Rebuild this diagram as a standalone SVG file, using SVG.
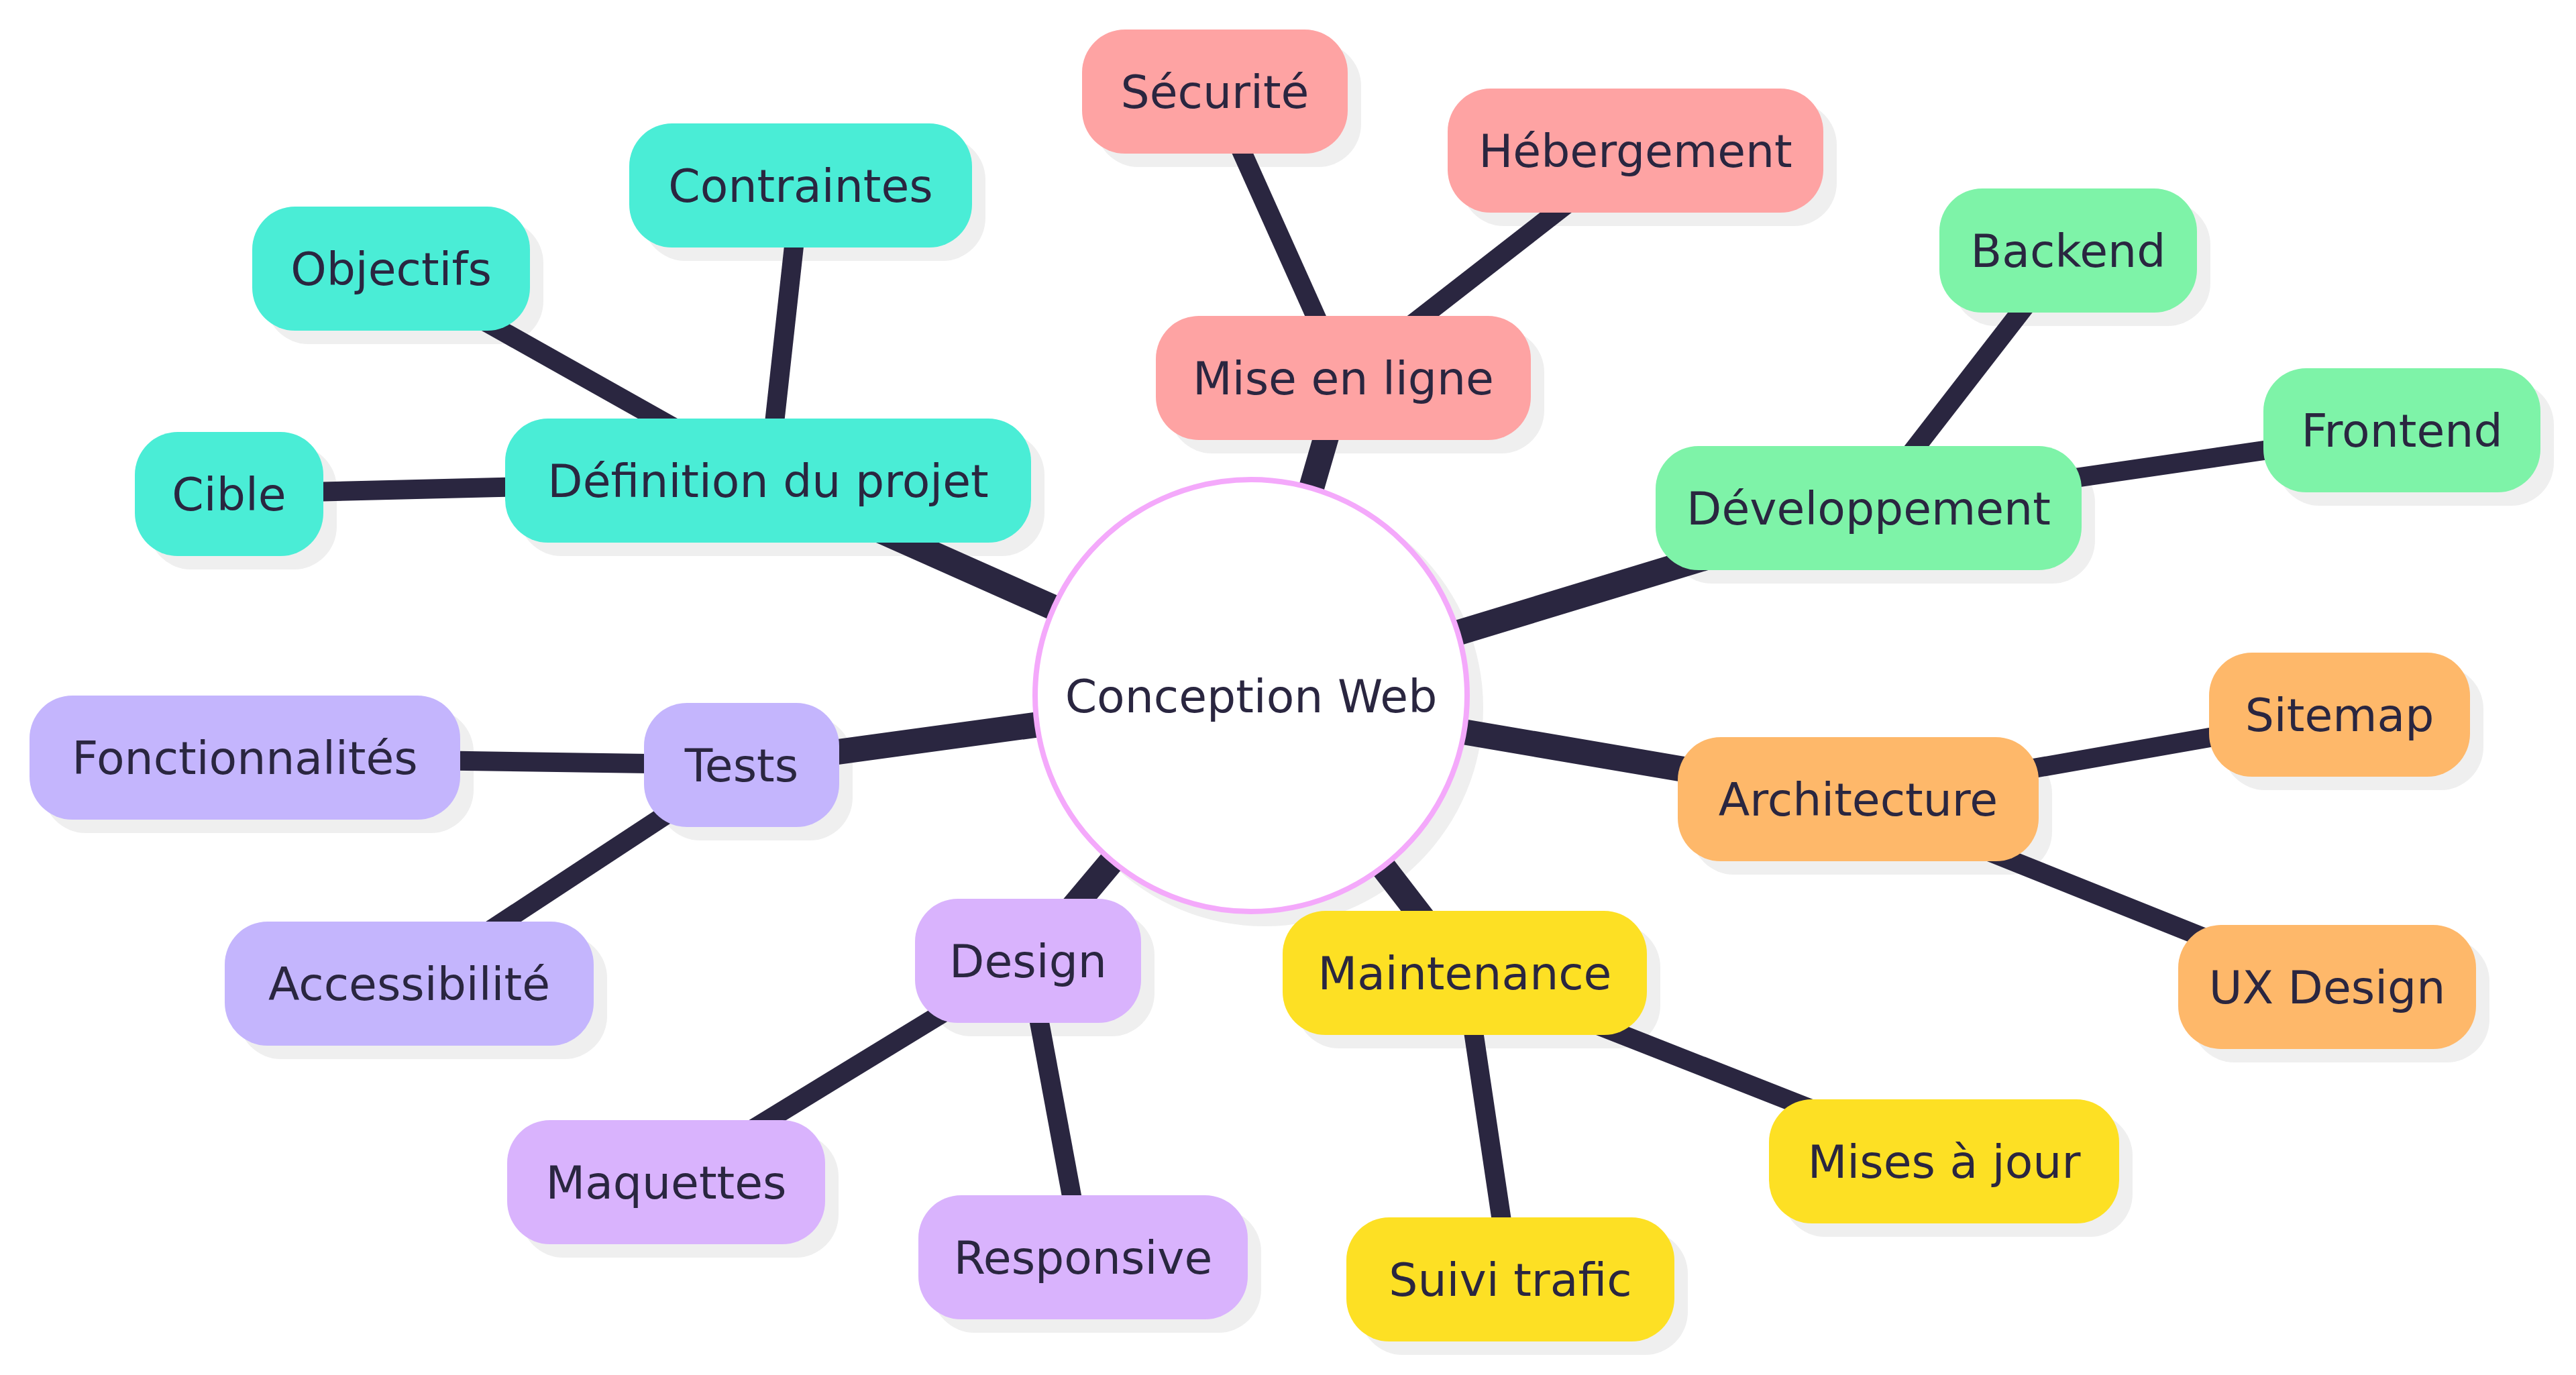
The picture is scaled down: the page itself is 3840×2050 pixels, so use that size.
<svg xmlns="http://www.w3.org/2000/svg" width="3840" height="2050" viewBox="0 0 3840 2050">
<style>
.sh{fill:#efefef}
.n{stroke:none}
.t{font-family:"DejaVu Sans","Noto Sans",sans-serif;font-size:68px;fill:#2a2640;text-anchor:middle}
.c0{stroke:#2a2640;stroke-width:38;fill:none}
.c1{stroke:#2a2640;stroke-width:29;fill:none}
.teal{fill:#4aedd6}.red{fill:#fea3a3}.green{fill:#7ef3a8}.orange{fill:#feb86a}.yellow{fill:#fde024}.violet{fill:#c4b5fd}.purple{fill:#d9b3fd}
</style>
<rect width="3840" height="2050" fill="#ffffff"/>
<g id="shadows">
<circle class="sh" cx="1885" cy="1055" r="326"/>
<rect class="sh" x="773" y="644" width="784" height="185" rx="64"/>
<rect class="sh" x="958" y="204" width="511" height="185" rx="64"/>
<rect class="sh" x="396" y="328" width="414" height="185" rx="64"/>
<rect class="sh" x="221" y="664" width="281" height="185" rx="64"/>
<rect class="sh" x="1743" y="491" width="559" height="185" rx="64"/>
<rect class="sh" x="1633" y="64" width="396" height="185" rx="64"/>
<rect class="sh" x="2178" y="152" width="560" height="185" rx="64"/>
<rect class="sh" x="2488" y="685" width="635" height="185" rx="64"/>
<rect class="sh" x="2911" y="301" width="384" height="185" rx="64"/>
<rect class="sh" x="3394" y="569" width="413" height="185" rx="64"/>
<rect class="sh" x="2521" y="1119" width="538" height="185" rx="64"/>
<rect class="sh" x="3313" y="993" width="389" height="185" rx="64"/>
<rect class="sh" x="3267" y="1399" width="444" height="185" rx="64"/>
<rect class="sh" x="1932" y="1378" width="543" height="185" rx="64"/>
<rect class="sh" x="2657" y="1659" width="522" height="185" rx="64"/>
<rect class="sh" x="2027" y="1835" width="489" height="185" rx="64"/>
<rect class="sh" x="1384" y="1360" width="337" height="185" rx="64"/>
<rect class="sh" x="776" y="1690" width="474" height="185" rx="64"/>
<rect class="sh" x="1389" y="1802" width="491" height="185" rx="64"/>
<rect class="sh" x="980" y="1068" width="291" height="185" rx="64"/>
<rect class="sh" x="64" y="1057" width="642" height="185" rx="64"/>
<rect class="sh" x="355" y="1394" width="550" height="185" rx="64"/>
</g>
<g id="connectors">
<line class="c0" x1="1865" y1="1037" x2="1145" y2="716.5"/>
<line class="c0" x1="1865" y1="1037" x2="2002.5" y2="563.5"/>
<line class="c0" x1="1865" y1="1037" x2="2785.5" y2="757.5"/>
<line class="c0" x1="1865" y1="1037" x2="2770" y2="1191.5"/>
<line class="c0" x1="1865" y1="1037" x2="2183.5" y2="1450.5"/>
<line class="c0" x1="1865" y1="1037" x2="1532.5" y2="1432.5"/>
<line class="c0" x1="1865" y1="1037" x2="1105.5" y2="1140.5"/>
<line class="c1" x1="1145" y1="716.5" x2="1193.5" y2="276.5"/>
<line class="c1" x1="1145" y1="716.5" x2="583" y2="400.5"/>
<line class="c1" x1="1145" y1="716.5" x2="341.5" y2="736.5"/>
<line class="c1" x1="2002.5" y1="563.5" x2="1811" y2="136.5"/>
<line class="c1" x1="2002.5" y1="563.5" x2="2438" y2="224.5"/>
<line class="c1" x1="2785.5" y1="757.5" x2="3083" y2="373.5"/>
<line class="c1" x1="2785.5" y1="757.5" x2="3580.5" y2="641.5"/>
<line class="c1" x1="2770" y1="1191.5" x2="3487.5" y2="1065.5"/>
<line class="c1" x1="2770" y1="1191.5" x2="3469" y2="1471.5"/>
<line class="c1" x1="2183.5" y1="1450.5" x2="2898" y2="1731.5"/>
<line class="c1" x1="2183.5" y1="1450.5" x2="2251.5" y2="1907.5"/>
<line class="c1" x1="1532.5" y1="1432.5" x2="993" y2="1762.5"/>
<line class="c1" x1="1532.5" y1="1432.5" x2="1614.5" y2="1874.5"/>
<line class="c1" x1="1105.5" y1="1140.5" x2="365" y2="1129.5"/>
<line class="c1" x1="1105.5" y1="1140.5" x2="610" y2="1466.5"/>
</g>
<g id="root">
<circle cx="1865" cy="1037" r="322" fill="#ffffff" stroke="#f4a9fb" stroke-width="8"/>
<text class="t" x="1865" y="1062">Conception Web</text>
</g>
<g id="definition"><rect class="n teal" x="753" y="624" width="784" height="185" rx="64"/><text class="t" x="1145" y="740.5">Définition du projet</text></g>
<g id="contraintes"><rect class="n teal" x="938" y="184" width="511" height="185" rx="64"/><text class="t" x="1193.5" y="300.5">Contraintes</text></g>
<g id="objectifs"><rect class="n teal" x="376" y="308" width="414" height="185" rx="64"/><text class="t" x="583" y="424.5">Objectifs</text></g>
<g id="cible"><rect class="n teal" x="201" y="644" width="281" height="185" rx="64"/><text class="t" x="341.5" y="760.5">Cible</text></g>
<g id="mise-en-ligne"><rect class="n red" x="1723" y="471" width="559" height="185" rx="64"/><text class="t" x="2002.5" y="587.5">Mise en ligne</text></g>
<g id="securite"><rect class="n red" x="1613" y="44" width="396" height="185" rx="64"/><text class="t" x="1811" y="160.5">Sécurité</text></g>
<g id="hebergement"><rect class="n red" x="2158" y="132" width="560" height="185" rx="64"/><text class="t" x="2438" y="248.5">Hébergement</text></g>
<g id="developpement"><rect class="n green" x="2468" y="665" width="635" height="185" rx="64"/><text class="t" x="2785.5" y="781.5">Développement</text></g>
<g id="backend"><rect class="n green" x="2891" y="281" width="384" height="185" rx="64"/><text class="t" x="3083" y="397.5">Backend</text></g>
<g id="frontend"><rect class="n green" x="3374" y="549" width="413" height="185" rx="64"/><text class="t" x="3580.5" y="665.5">Frontend</text></g>
<g id="architecture"><rect class="n orange" x="2501" y="1099" width="538" height="185" rx="64"/><text class="t" x="2770" y="1215.5">Architecture</text></g>
<g id="sitemap"><rect class="n orange" x="3293" y="973" width="389" height="185" rx="64"/><text class="t" x="3487.5" y="1089.5">Sitemap</text></g>
<g id="ux-design"><rect class="n orange" x="3247" y="1379" width="444" height="185" rx="64"/><text class="t" x="3469" y="1495.5">UX Design</text></g>
<g id="maintenance"><rect class="n yellow" x="1912" y="1358" width="543" height="185" rx="64"/><text class="t" x="2183.5" y="1474.5">Maintenance</text></g>
<g id="mises-a-jour"><rect class="n yellow" x="2637" y="1639" width="522" height="185" rx="64"/><text class="t" x="2898" y="1755.5">Mises à jour</text></g>
<g id="suivi-trafic"><rect class="n yellow" x="2007" y="1815" width="489" height="185" rx="64"/><text class="t" x="2251.5" y="1931.5">Suivi trafic</text></g>
<g id="design"><rect class="n purple" x="1364" y="1340" width="337" height="185" rx="64"/><text class="t" x="1532.5" y="1456.5">Design</text></g>
<g id="maquettes"><rect class="n purple" x="756" y="1670" width="474" height="185" rx="64"/><text class="t" x="993" y="1786.5">Maquettes</text></g>
<g id="responsive"><rect class="n purple" x="1369" y="1782" width="491" height="185" rx="64"/><text class="t" x="1614.5" y="1898.5">Responsive</text></g>
<g id="tests"><rect class="n violet" x="960" y="1048" width="291" height="185" rx="64"/><text class="t" x="1105.5" y="1164.5">Tests</text></g>
<g id="fonctionnalites"><rect class="n violet" x="44" y="1037" width="642" height="185" rx="64"/><text class="t" x="365" y="1153.5">Fonctionnalités</text></g>
<g id="accessibilite"><rect class="n violet" x="335" y="1374" width="550" height="185" rx="64"/><text class="t" x="610" y="1490.5">Accessibilité</text></g>
</svg>
